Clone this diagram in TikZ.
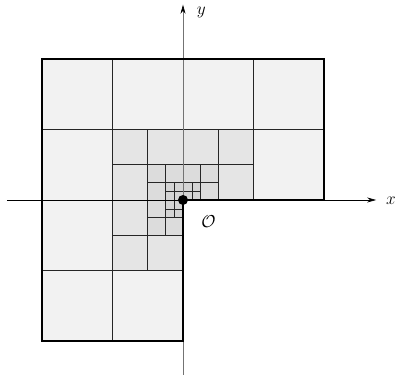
\documentclass[tikz,border=0pt]{standalone}
\usepackage{tikz}
\usetikzlibrary{arrows.meta}
\definecolor{cellzero}{HTML}{F2F2F2}
\definecolor{cellone}{HTML}{E5E5E5}
\definecolor{celltwo}{HTML}{DCDCDC}
\definecolor{cellthree}{HTML}{D4D4D4}
\tikzset{
        cell_base/.style={draw=black!85, line width=0.5pt},
        axis_line/.style={line width=0.7pt, -{Stealth[length=9pt, width=5pt]}},
        axis_gray/.style={line width=0.7pt, draw=black!55, -{Stealth[length=9pt, width=5pt, color=black]}},
        boundary_line/.style={draw=black, line width=1.3pt, line join=miter},
        origin_dot/.style={circle, fill=black, minimum size=10pt, inner sep=0pt},
        lbl/.style={font=\fontsize{17}{20}\selectfont, inner sep=1pt}
    }
\begin{document}
\begin{tikzpicture}[x=70.5pt, y=70.5pt]
    \useasboundingbox (-2.596,-2.511) rectangle (3.050,2.837);
    % rings of squares, halving towards the corner
    \foreach \lvl/\s/\fc in {0/1/cellzero, 1/0.5/cellone, 2/0.25/celltwo} {
        \foreach \i/\j in {-2/1, -1/1, 0/1, 1/1, -2/0, 1/0, -2/-1, -2/-2, -1/-2}
            \draw[cell_base, fill=\fc] (\i*\s, \j*\s) rectangle ++(\s, \s);
    }
    % finest level fills the whole small L
    \foreach \i/\j in {-2/0, -1/0, 0/0, 1/0, -2/1, -1/1, 0/1, 1/1, -2/-1, -1/-1, -2/-2, -1/-2}
        \draw[cell_base, fill=cellthree] (\i*0.125, \j*0.125) rectangle ++(0.125, 0.125);
    % axes
    \coordinate (y_from) at (0,-2.48);
    \coordinate (y_to) at (0,2.77);
    \coordinate (x_from) at (-2.50,0);
    \coordinate (x_to) at (2.74,0);
    \draw[axis_gray] (y_from) -- (y_to);
    \draw[axis_line] (x_from) -- (x_to);
    \node[lbl] (lbl_x) at (2.95,-0.01) {$x$};
    \node[lbl] (lbl_y) at (0.26,2.66) {$y$};
    % L-shaped boundary
    \draw[boundary_line] (-2,2) -- (2,2) -- (2,0) -- (0,0) -- (0,-2) -- (-2,-2) -- cycle;
    \node[origin_dot] (origin) at (0,0) {};
    \node[lbl] (lbl_o) at (0.36,-0.30) {$\mathcal{O}$};
\end{tikzpicture}
\end{document}
